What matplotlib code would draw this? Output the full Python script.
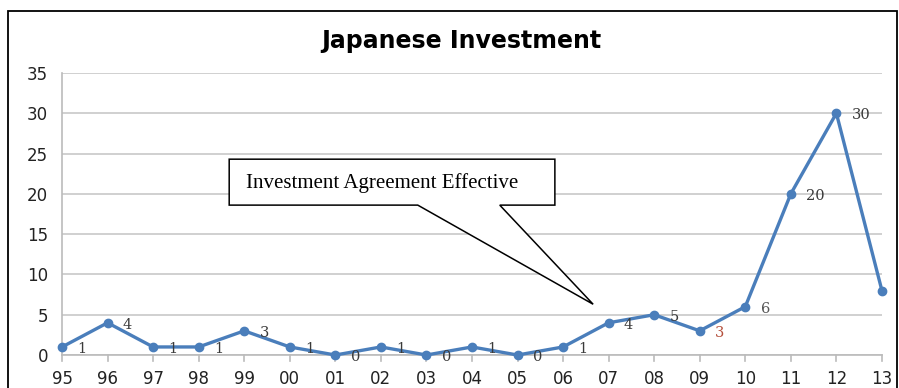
import numpy as np
import matplotlib.pyplot as plt
from matplotlib.patches import Rectangle, Polygon

# yearly count of Japanese investment projects
years = ['95', '96', '97', '98', '99', '00', '01', '02', '03', '04',
         '05', '06', '07', '08', '09', '10', '11', '12', '13']
counts = [1, 4, 1, 1, 3, 1, 0, 1, 0, 1, 0, 1, 4, 5, 3, 6, 20, 30, 8]
labelled = [True] * 18 + [False]          # no value shown for '13
label_colors = ['#3a3a3a'] * 14 + ['#b5503c', '#555555', '#3a3a3a', '#3a3a3a', '#3a3a3a']

line_color = '#4a7ebb'

fig = plt.figure(figsize=(8.99, 3.88), dpi=100)
ax = fig.add_axes([0.069, 0.085, 0.912, 0.727])

x = np.arange(len(years))
ax.plot(x, counts, color=line_color, lw=2.4, marker='o', ms=6,
        markerfacecolor=line_color, markeredgecolor=line_color, clip_on=False, zorder=3)

for xi, v, show, c in zip(x, counts, labelled, label_colors):
    if show:
        ax.annotate(str(v), (xi, v), xytext=(11, -1.5), textcoords='offset points',
                    ha='left', va='center', fontsize=10.5, color=c,
                    family='DejaVu Serif', zorder=4)

ax.set_xlim(0, 18)
ax.set_ylim(0, 35)
ax.set_yticks(np.arange(0, 36, 5))
ax.set_xticks(x)
ax.set_xticklabels(years)
ax.tick_params(axis='both', labelsize=12, colors='#222222', length=0)
ax.tick_params(axis='x', pad=10.5)
ax.tick_params(axis='y', pad=10)

ax.grid(axis='y', color='#c8c8c8', lw=1.2)
ax.set_axisbelow(True)
for side in ['top', 'right']:
    ax.spines[side].set_visible(False)
ax.spines['left'].set_color('#bbbbbb')
ax.spines['bottom'].set_color('#bbbbbb')
ax.spines['left'].set_linewidth(1.2)
ax.spines['bottom'].set_linewidth(1.2)
# small category ticks below the axis line
for xi in x:
    ax.plot([xi, xi], [0, -0.7], color='#bbbbbb', lw=1.2, clip_on=False)

fig.text(0.513, 0.895, 'Japanese Investment', ha='center', va='center',
         fontsize=17, fontweight='bold')

# callout pointing at the 2007 agreement
callout = Polygon([(3.67, 24.3), (10.82, 24.3), (10.82, 18.6), (9.61, 18.6),
                   (11.66, 6.3), (7.81, 18.6), (3.67, 18.6)],
                  closed=True, facecolor='white', edgecolor='black', lw=1.1, zorder=5)
ax.add_patch(callout)
ax.text(4.03, 21.4, 'Investment Agreement Effective', ha='left', va='center',
        fontsize=15, family='Liberation Serif', zorder=6)

# outer frame of the chart
fig.patches.append(Rectangle((8 / 899, -0.02), 889 / 899, 1 - 11 / 388 + 0.02,
                             transform=fig.transFigure, fill=False,
                             edgecolor='black', lw=1.3))

fig.savefig('out.png', dpi=100)
